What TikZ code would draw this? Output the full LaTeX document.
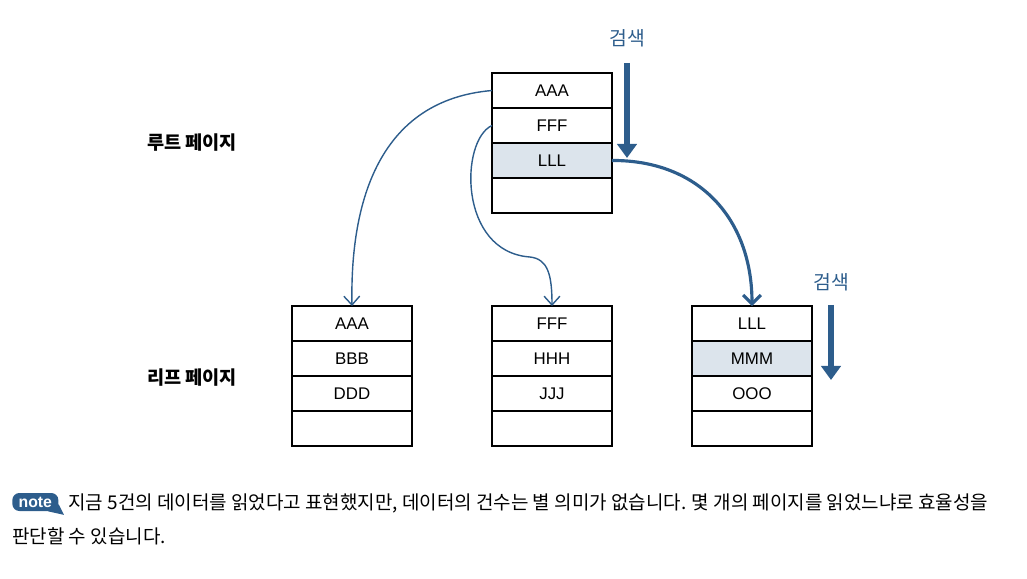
\documentclass[tikz,border=0pt]{standalone}
\usepackage{fontspec}
\setmainfont{Liberation Sans}
\newfontfamily\kr{Noto Sans CJK KR}
\usetikzlibrary{positioning,arrows.meta}

\definecolor{pgblue}{HTML}{2D5D8C}
\definecolor{pgshade}{HTML}{DCE4EC}

\tikzset{
  cell/.style={draw, line width=0.8pt, minimum width=2.4cm, minimum height=0.7cm,
    inner sep=0pt, outer sep=0pt, font=\fontsize{9.6}{10}\selectfont},
  hit/.style={cell, fill=pgshade},
  pageframe/.style={draw, line width=1.4pt},
  link/.style={pgblue, line width=0.8pt, -{Straight Barb[length=5pt,width=9pt]}},
  mainlink/.style={pgblue, line width=1.8pt, -{Straight Barb[length=5pt,width=10pt]}},
  scan/.style={pgblue, line width=3.2pt, -{Triangle[length=8pt,width=11pt]}},
  scanlabel/.style={pgblue, font=\kr\fontsize{11}{12}\selectfont},
  levellabel/.style={font=\kr\bfseries\fontsize{10.6}{12}\selectfont},
  notetext/.style={anchor=west, inner sep=0pt, font=\kr\fontsize{10.8}{12}\selectfont},
}

\begin{document}
\begin{tikzpicture}[x=0.02cm, y=-0.02cm]
    \useasboundingbox (0,0) rectangle (1027,578);

    % 루트 페이지
    \node[cell, anchor=north west] (root1) at (492,73) {AAA};
    \node[cell, below=0pt of root1] (root2) {FFF};
    \node[hit, below=0pt of root2] (root3) {LLL};
    \node[cell, below=0pt of root3] (root4) {};
    \draw[pageframe] (root1.north west) rectangle (root4.south east);

    % 리프 페이지
    \node[cell, anchor=north west] (leafa1) at (292,306) {AAA};
    \node[cell, below=0pt of leafa1] (leafa2) {BBB};
    \node[cell, below=0pt of leafa2] (leafa3) {DDD};
    \node[cell, below=0pt of leafa3] (leafa4) {};
    \draw[pageframe] (leafa1.north west) rectangle (leafa4.south east);

    \node[cell, anchor=north west] (leafb1) at (492,306) {FFF};
    \node[cell, below=0pt of leafb1] (leafb2) {HHH};
    \node[cell, below=0pt of leafb2] (leafb3) {JJJ};
    \node[cell, below=0pt of leafb3] (leafb4) {};
    \draw[pageframe] (leafb1.north west) rectangle (leafb4.south east);

    \node[cell, anchor=north west] (leafc1) at (692,306) {LLL};
    \node[hit, below=0pt of leafc1] (leafc2) {MMM};
    \node[cell, below=0pt of leafc2] (leafc3) {OOO};
    \node[cell, below=0pt of leafc3] (leafc4) {};
    \draw[pageframe] (leafc1.north west) rectangle (leafc4.south east);

    % 단계 이름
    \node[levellabel] (rootname) at (192,143) {루트 페이지};
    \node[levellabel] (leafname) at (192,378) {리프 페이지};

    % 검색
    \node[scanlabel] (scantop) at (627,38) {검색};
    \coordinate (scantopend) at (627,158);
    \draw[scan] (scantop.south) ++(0,10) -- (scantopend);
    \node[scanlabel] (scanleaf) at (831,282) {검색};
    \coordinate (scanleafend) at (831,380);
    \draw[scan] (scanleaf.south) ++(0,8) -- (scanleafend);

    % 포인터
    \draw[link] (root1.west) .. controls (380,100) and (350,200) .. (leafa1.north);
    \draw[link] (root2.west) .. controls (460,140) and (458,252) .. (530,257)
        .. controls (548,259) and (552,275) .. (leafb1.north);
    \draw[mainlink] (root3.east) .. controls (700,160) and (752,220) .. (leafc1.north);

    % 노트
    \node[fill=pgblue, rounded corners=4pt, text=white,
      font=\bfseries\fontsize{9}{10}\selectfont, minimum width=0.92cm,
      minimum height=0.36cm, inner xsep=0pt, inner ysep=1pt,
      anchor=west] (note) at (12,502) {note};
    \fill[pgblue] ([xshift=-6pt]note.south east) -- ([xshift=3pt,yshift=-2pt]note.south east)
        -- ([yshift=4pt]note.south east) -- cycle;
    \node[notetext] (noteline1) at (68,503)
      {지금 5건의 데이터를 읽었다고 표현했지만, 데이터의 건수는 별 의미가 없습니다. 몇 개의 페이지를 읽었느냐로 효율성을};
    \node[notetext] (noteline2) at (12,536) {판단할 수 있습니다.};
\end{tikzpicture}
\end{document}
